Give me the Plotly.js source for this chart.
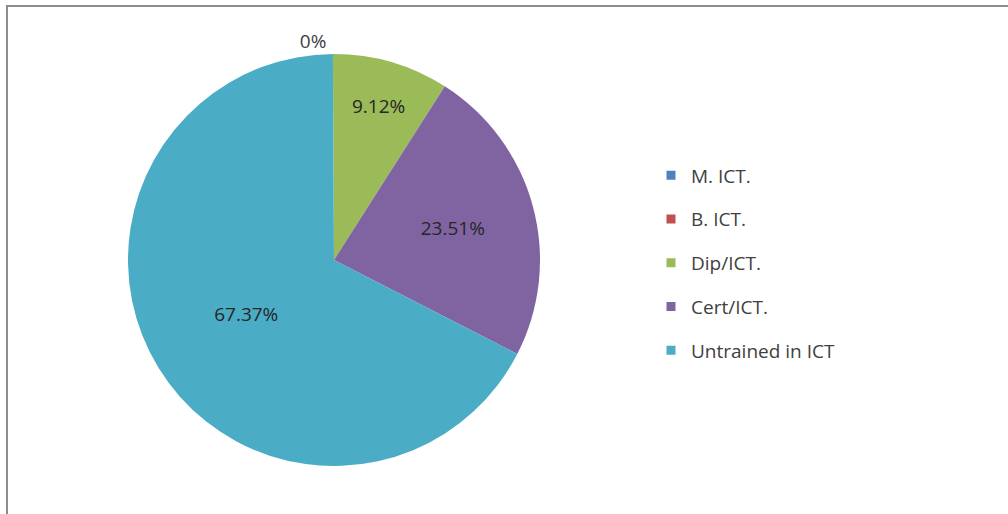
<!DOCTYPE html>
<html>
<head>
<meta charset="utf-8">
<script src="https://cdn.plot.ly/plotly-3.0.1.min.js"></script>
<style>
  html, body { margin: 0; padding: 0; background: #fff; }
  #chart { width: 1008px; height: 514px; }
</style>
</head>
<body>
<div id="chart"></div>
<script>
// ---- data ----
const categories = ['M. ICT.', 'B. ICT.', 'Dip/ICT.', 'Cert/ICT.', 'Untrained in ICT'];
const values = [0, 0, 9.12, 23.51, 67.37];
const colors = ['#4F81BD', '#C0504D', '#9BBB59', '#8064A2', '#4BACC6'];

// ---- layout helpers (pixels) ----
const W = 1008, H = 514;
const cx = 334, cy = 260, r = 206;
const px2x = p => p / W;
const px2y = p => 1 - p / H;
const FONT = '"Open Sans", Lato, sans-serif';

const labelText = values.map((v, i) => (i === 1 && v === 0) ? '' : v + '%');

const pie = {
  type: 'pie',
  values: values,
  labels: categories,
  marker: { colors: colors, line: { width: 0 } },
  sort: false,
  direction: 'clockwise',
  rotation: -0.3,
  text: labelText,
  textinfo: 'text',
  textposition: values.map(v => v === 0 ? 'outside' : 'inside'),
  insidetextorientation: 'horizontal',
  textfont: { family: FONT, size: 19, color: '#262626' },
  outsidetextfont: { family: FONT, size: 19, color: '#404040' },
  domain: { x: [px2x(cx - r), px2x(cx + r)], y: [px2y(cy + r), px2y(cy - r)] },
  showlegend: false,
  hoverinfo: 'label+percent'
};

// legend entries as dummy traces so items can be spaced like the original
const legendTraces = categories.map((c, i) => ({
  type: 'scatter',
  mode: 'markers',
  x: [null], y: [null],
  name: c,
  legendgroup: 'g' + i,
  marker: { symbol: 'square', size: 9, color: colors[i] },
  showlegend: true,
  hoverinfo: 'skip'
}));

const layout = {
  width: W, height: H,
  margin: { l: 0, r: 0, t: 0, b: 0 },
  paper_bgcolor: '#ffffff',
  plot_bgcolor: '#ffffff',
  xaxis: { visible: false, domain: [0.98, 1] },
  yaxis: { visible: false, domain: [0.98, 1] },
  showlegend: true,
  legend: {
    x: px2x(651), xanchor: 'left',
    y: px2y(263), yanchor: 'middle',
    traceorder: 'grouped',
    tracegroupgap: 16,
    font: { family: FONT, size: 19, color: '#404040' },
    bgcolor: 'rgba(0,0,0,0)'
  },
  shapes: [
    { type: 'line', xref: 'paper', yref: 'paper', x0: px2x(6), x1: 1, y0: px2y(6), y1: px2y(6),
      line: { color: '#8c8c8c', width: 2 } },
    { type: 'line', xref: 'paper', yref: 'paper', x0: px2x(7), x1: px2x(7), y0: 0, y1: px2y(6),
      line: { color: '#8c8c8c', width: 2 } }
  ]
};

Plotly.newPlot('chart', [pie].concat(legendTraces), layout, { displayModeBar: false, staticPlot: true });
</script>
</body>
</html>
